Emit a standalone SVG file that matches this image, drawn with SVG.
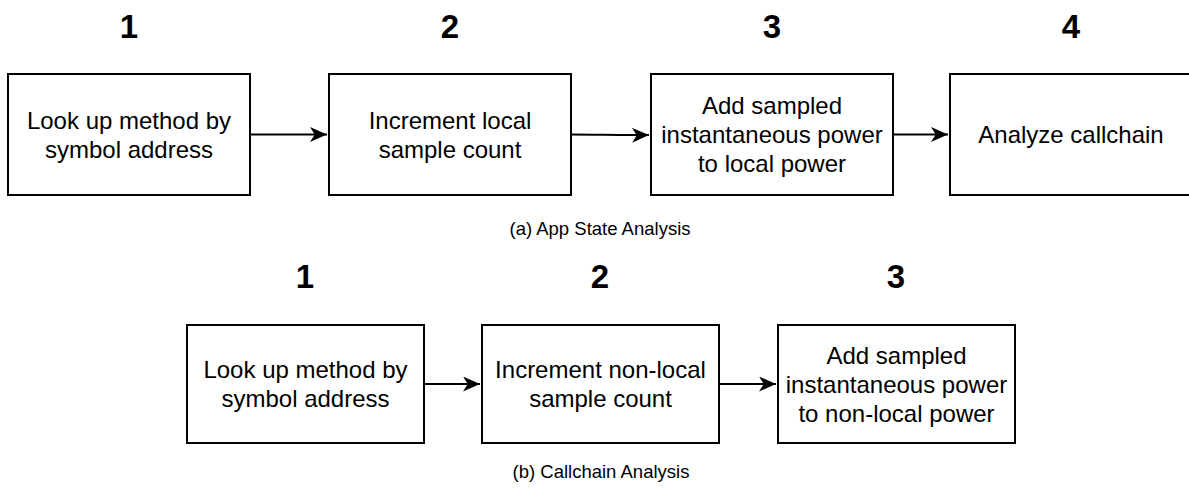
<svg xmlns="http://www.w3.org/2000/svg" width="1189" height="490" viewBox="0 0 1189 490">
<style>
.box{fill:#fff;stroke:#000;stroke-width:2}
.t{font-family:"Liberation Sans",Arial,sans-serif;font-size:24px;fill:#000;text-anchor:middle}
.n{font-family:"Liberation Sans",Arial,sans-serif;font-size:33px;font-weight:bold;fill:#000;text-anchor:middle}
.cap{font-family:"Liberation Sans",Arial,sans-serif;font-size:18.5px;fill:#000;text-anchor:middle}
.c{fill:none;stroke:#000;stroke-width:2}
</style>
<defs>
<marker id="ah" viewBox="0 0 10 10" refX="10" refY="5" markerWidth="17" markerHeight="15" markerUnits="userSpaceOnUse" orient="auto" preserveAspectRatio="none">
<path d="M0,0 L10,5 L0,10 L2.8,5 Z" fill="#000"/>
</marker>
</defs>
<rect width="1189" height="490" fill="#fff"/>
<g id="labels">
<text class="n" x="129" y="38">1</text>
<text class="n" x="450" y="38">2</text>
<text class="n" x="772" y="38">3</text>
<text class="n" x="1071" y="38">4</text>
<text class="cap" x="600" y="235">(a) App State Analysis</text>
<text class="n" x="305" y="288">1</text>
<text class="n" x="600" y="288">2</text>
<text class="n" x="896" y="288">3</text>
<text class="cap" x="601" y="478">(b) Callchain Analysis</text>
</g>
<g id="a1">
<rect class="box" x="8" y="74" width="242" height="121"/>
<text class="t" x="129" y="129">Look up method by</text>
<text class="t" x="129" y="158">symbol address</text>
</g>
<g id="a2">
<rect class="box" x="329" y="74" width="242" height="121"/>
<text class="t" x="450" y="129">Increment local</text>
<text class="t" x="450" y="158">sample count</text>
</g>
<g id="a3">
<rect class="box" x="651" y="74" width="242" height="121"/>
<text class="t" x="772" y="114">Add sampled</text>
<text class="t" x="772" y="143">instantaneous power</text>
<text class="t" x="772" y="172">to local power</text>
</g>
<g id="a4">
<rect class="box" x="950" y="74" width="245" height="121"/>
<text class="t" x="1071" y="143">Analyze callchain</text>
</g>
<g id="b1">
<rect class="box" x="187" y="325" width="237" height="118"/>
<text class="t" x="305.500" y="378">Look up method by</text>
<text class="t" x="305.500" y="407">symbol address</text>
</g>
<g id="b2">
<rect class="box" x="482" y="325" width="237" height="118"/>
<text class="t" x="600.500" y="378">Increment non-local</text>
<text class="t" x="600.500" y="407">sample count</text>
</g>
<g id="b3">
<rect class="box" x="778" y="325" width="237" height="118"/>
<text class="t" x="896.500" y="364">Add sampled</text>
<text class="t" x="896.500" y="393">instantaneous power</text>
<text class="t" x="896.500" y="422">to non-local power</text>
</g>
<g id="connectors">
<path class="c" d="M250,134.500 L327,134.500" marker-end="url(#ah)"/>
<path class="c" d="M571,134.500 C600,134.500 620,135.500 649,135" marker-end="url(#ah)"/>
<path class="c" d="M893,134.500 L948,134.500" marker-end="url(#ah)"/>
<path class="c" d="M424,384 L480,384" marker-end="url(#ah)"/>
<path class="c" d="M719,384 L776,384" marker-end="url(#ah)"/>
</g>
</svg>
